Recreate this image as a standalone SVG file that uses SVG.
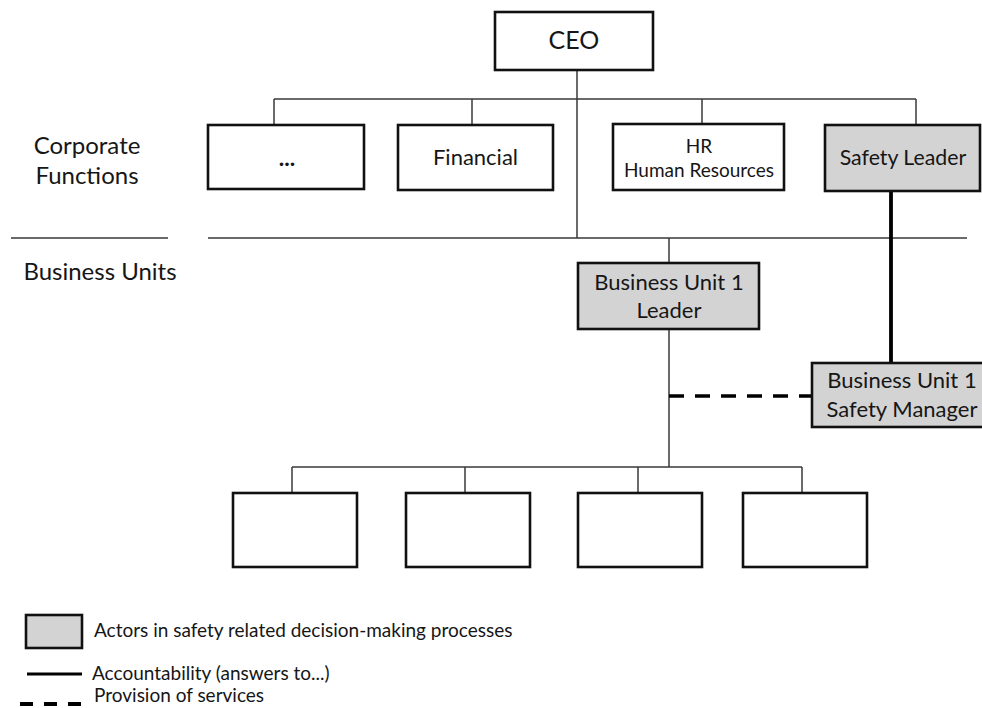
<svg xmlns="http://www.w3.org/2000/svg" width="982" height="708" viewBox="0 0 982 708">
<style>
  .box{fill:#fff;stroke:#111;stroke-width:2.6}
  .act{fill:#d3d3d3;stroke:#111;stroke-width:2.6}
  .thin{fill:none;stroke:#3a3a3a;stroke-width:1.5}
  .thick{fill:none;stroke:#000;stroke-width:3.8}
  .dash{fill:none;stroke:#000;stroke-width:3.5;stroke-dasharray:15 11}
  text{font-family:Lato,"Liberation Sans",sans-serif;fill:#161616}
  .c{text-anchor:middle}
</style>
<rect width="982" height="708" fill="#fff"/>
<g id="connectors">
  <path class="thin" d="M274,99H916M274,99V125M472,99V125M702,99V124M916,99V125M577,70V238"/>
  <path class="thin" d="M208,238H967M11,238H168"/>
  <path class="thin" d="M669,238V263M669,329V467M292,467H802M292,467V493M465,467V493M638,467V493M802,467V493"/>
  <path class="thick" d="M891,191V363"/>
  <path class="dash" d="M669,396H812"/>
</g>
<g id="labels">
  <text class="c" x="87" y="154" font-size="24">Corporate</text>
  <text class="c" x="87" y="184" font-size="24">Functions</text>
  <text class="c" x="100" y="280" font-size="24">Business Units</text>
</g>
<g id="ceo"><rect class="box" x="495" y="12" width="158" height="58"/><text class="c" x="574" y="49" font-size="25">CEO</text></g>
<g id="etc"><rect class="box" x="208" y="125" width="156" height="64"/><text class="c" x="287" y="166" font-size="23" font-weight="bold">...</text></g>
<g id="financial"><rect class="box" x="398" y="125" width="155" height="65"/><text class="c" x="475.5" y="165" font-size="22">Financial</text></g>
<g id="hr"><rect class="box" x="613" y="124" width="171" height="66"/><text class="c" x="699" y="153" font-size="19">HR</text><text class="c" x="699" y="177" font-size="19">Human Resources</text></g>
<g id="safety-leader"><rect class="act" x="825" y="125" width="155" height="66"/><text class="c" x="903" y="165" font-size="21.3">Safety  Leader</text></g>
<g id="bu1-leader"><rect class="act" x="578" y="263" width="181" height="66"/><text class="c" x="669" y="290" font-size="22">Business Unit  1</text><text class="c" x="669" y="318" font-size="22">Leader</text></g>
<g id="bu1-safety-manager"><rect class="act" x="812" y="363" width="180" height="64"/><text class="c" x="902" y="388" font-size="22">Business Unit  1</text><text class="c" x="902" y="417" font-size="22">Safety Manager</text></g>
<g id="unit1"><rect class="box" x="233" y="493" width="124" height="74"/></g>
<g id="unit2"><rect class="box" x="406" y="493" width="124" height="74"/></g>
<g id="unit3"><rect class="box" x="578" y="493" width="124" height="74"/></g>
<g id="unit4"><rect class="box" x="743" y="493" width="124" height="74"/></g>
<g id="legend">
  <rect class="act" x="26" y="615" width="56" height="33"/>
  <text x="94" y="637" font-size="19">Actors in safety related decision-making processes</text>
  <path d="M27,674H82" stroke="#000" stroke-width="3"/>
  <text x="92" y="680" font-size="19">Accountability (answers to...)</text>
  <path d="M20,704H82" stroke="#000" stroke-width="4" stroke-dasharray="13 11"/>
  <text x="94" y="702" font-size="19">Provision of services</text>
</g>
</svg>
